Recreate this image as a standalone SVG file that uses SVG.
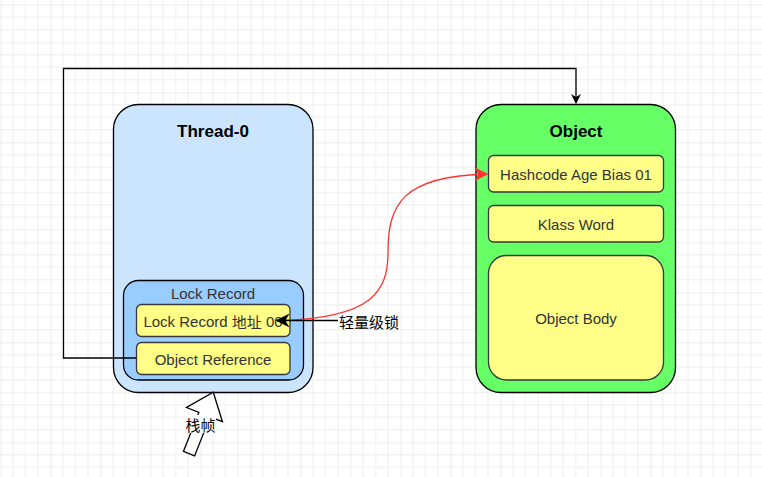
<svg xmlns="http://www.w3.org/2000/svg" width="762" height="477" viewBox="0 0 762 477">
<defs>
<pattern id="grid" x="0.5" y="-7.7" width="50" height="50" patternUnits="userSpaceOnUse">
<path d="M12.5 0V50M25 0V50M37.5 0V50M0 12.5H50M0 25H50M0 37.5H50" stroke="#eeeeee" stroke-width="1" fill="none"/>
<path d="M0 0V50M0 0H50" stroke="#dddddd" stroke-width="1" fill="none"/>
</pattern>
<marker id="ab" viewBox="0 0 10 10" refX="9" refY="5" markerWidth="10" markerHeight="10" markerUnits="userSpaceOnUse" orient="auto">
<path d="M0 0L10 5L0 10L3 5Z" fill="#000"/>
</marker>
<marker id="ar" viewBox="0 0 10 10" refX="9" refY="5" markerWidth="14" markerHeight="14" markerUnits="userSpaceOnUse" orient="auto">
<path d="M0 0L10 5L0 10L3 5Z" fill="#ff3333"/>
</marker>
<marker id="ab2" viewBox="0 0 10 10" refX="9" refY="5" markerWidth="14" markerHeight="14" markerUnits="userSpaceOnUse" orient="auto">
<path d="M0 0L10 5L0 10L3 5Z" fill="#000"/>
</marker>
</defs>
<style>
.t{font-family:"Liberation Sans",Arial,sans-serif;font-size:15px;fill:#333333;text-anchor:middle;dominant-baseline:central}
.b{font-family:"Liberation Sans",Arial,sans-serif;font-size:17px;font-weight:bold;fill:#000;text-anchor:middle;dominant-baseline:central}
.c{font-family:"Noto Sans CJK SC",sans-serif;font-size:15px;fill:#000;text-anchor:middle;dominant-baseline:central}
.y{fill:#ffff88;stroke:#36393d;stroke-width:1.3}
.o{stroke:#000;stroke-width:1.3}
</style>
<rect width="762" height="477" fill="#ffffff"/>
<rect width="762" height="477" fill="url(#grid)"/>

<g id="thread0">
<rect class="o" x="113.5" y="104.5" width="199.5" height="288" rx="25" fill="#cce5ff"/>
<text class="b" x="213" y="131">Thread-0</text>
</g>
<g id="lockrecord">
<rect class="o" x="123.5" y="280.5" width="180" height="99.5" rx="15" fill="#99ccff" stroke="#36393d"/>
<text class="t" x="213" y="293">Lock Record</text>
</g>
<g id="lockaddr">
<rect class="y" x="136.5" y="304.5" width="153.5" height="32" rx="5"/>
<text class="t" x="213" y="321"><tspan>Lock Record </tspan><tspan font-family="Noto Sans CJK SC,sans-serif">地址</tspan><tspan> 00</tspan></text>
</g>
<g id="objref">
<rect class="y" x="136.5" y="342.5" width="153.5" height="32" rx="5"/>
<text class="t" x="213" y="359">Object Reference</text>
</g>

<g id="object">
<rect class="o" x="476" y="104.5" width="199.5" height="288" rx="25" fill="#66ff66"/>
<text class="b" x="576" y="131">Object</text>
</g>
<g id="hashcode">
<rect class="y" x="488.5" y="155.5" width="175" height="36.5" rx="5"/>
<text class="t" x="576" y="174">Hashcode Age Bias 01</text>
</g>
<g id="klass">
<rect class="y" x="488.5" y="205.5" width="175" height="36.5" rx="5"/>
<text class="t" x="576" y="224">Klass Word</text>
</g>
<g id="body">
<rect class="y" x="488.5" y="255.5" width="175" height="124.5" rx="18"/>
<text class="t" x="576" y="318">Object Body</text>
</g>

<g id="connectors" fill="none">
<path d="M136.5 358H63.5V68.5H576V103" stroke="#000" stroke-width="1.3" marker-end="url(#ab)"/>
<path d="M283 320.5C372 317 388 292 388 252C388 205 402 176 487 174" stroke="#ff3333" stroke-width="1.3" marker-end="url(#ar)"/>
<path d="M338 320.5H277" stroke="#000" stroke-width="1.3" marker-end="url(#ab2)"/>
</g>

<g id="label-light">
<text class="c" x="369" y="321">轻量级锁</text>
</g>

<g id="stackframe">
<polygon transform="translate(213.3,392.3) rotate(21.6)" points="0,0 19.3,24 6,24 6,66 -6,66 -6,24 -19.3,24" fill="#ffffff" stroke="#000" stroke-width="1.3"/>
<rect x="185" y="415" width="31" height="18" fill="#ffffff"/>
<text class="c" x="200.5" y="424">栈帧</text>
</g>
</svg>
